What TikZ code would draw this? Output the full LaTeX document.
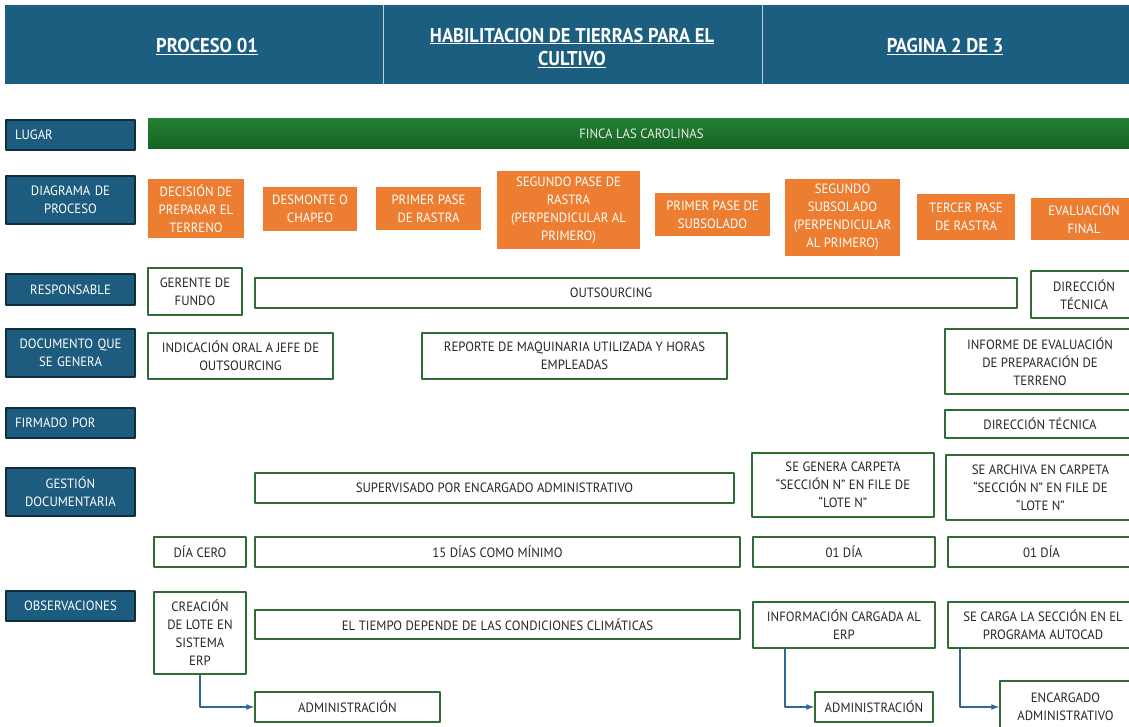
\documentclass[tikz,border=0pt]{standalone}
\usepackage{fontspec}
\setmainfont{PT Sans}[FakeStretch=0.95]
\newfontfamily\headfont[FakeStretch=0.93]{PT Sans}
\definecolor{headblue}{RGB}{27,94,128}
\definecolor{labelblue}{RGB}{29,92,126}
\definecolor{labeledge}{RGB}{16,45,62}
\definecolor{bartop}{RGB}{36,128,50}
\definecolor{barbottom}{RGB}{22,98,36}
\definecolor{orangebox}{RGB}{237,125,49}
\definecolor{boxgreen}{RGB}{46,108,52}
\definecolor{arrowblue}{RGB}{46,104,150}
\begin{document}
\begin{tikzpicture}[>=latex,line join=bevel,
  rowlabel/.style={draw=labeledge,line width=1.5bp,fill=labelblue,text=white,
    minimum width=129bp,text width=119bp,inner xsep=5bp,inner ysep=2bp,align=center,
    font=\fontsize{13.5}{18}\selectfont},
  leftlabel/.style={rowlabel,align=left,text width=111bp,inner xsep=9bp},
  stepbox/.style={fill=orangebox,text=white,align=center,inner sep=2bp,
    font=\fontsize{13.5}{18}\selectfont},
  infobox/.style={draw=boxgreen,line width=2bp,fill=white,text=black!85,align=center,
    inner sep=2bp,font=\fontsize{13.5}{18}\selectfont},
  headtext/.style={text=white,align=center,font=\headfont\bfseries\fontsize{20}{24}\selectfont},
  flow/.style={->,draw=arrowblue,line width=1.6bp},
]
  \useasboundingbox (0bp,0bp) rectangle (1129bp,727bp);
  \clip (0bp,0bp) rectangle (1129bp,727bp);
%%
  % Node: header
  \node (header) [fill=headblue,minimum width=1130bp,minimum height=79bp,inner sep=0pt] at (570.0bp,682.5bp) {};
  \coordinate (divA) at (383.0bp,682.5bp);
  \coordinate (divB) at (762.0bp,682.5bp);
  \draw [white!70!headblue,line width=0.8bp] (divA |- header.north) -- (divA |- header.south);
  \draw [white!70!headblue,line width=0.8bp] (divB |- header.north) -- (divB |- header.south);
  \node (hProc) [headtext] at (207.0bp,680.0bp) {\underline{PROCESO 01}};
  \node (hTitle) [headtext] at (572.0bp,679.0bp) {\underline{HABILITACION DE TIERRAS PARA EL}\\\underline{CULTIVO}};
  \node (hPage) [headtext] at (945.0bp,680.0bp) {\underline{PAGINA 2 DE 3}};
%%
  % Node: row labels
  \node (lugar) [leftlabel,minimum height=30bp] at (70.5bp,592.0bp) {LUGAR};
  \node (diagrama) [rowlabel,minimum height=48bp] at (70.5bp,527.0bp) {DIAGRAMA DE\\PROCESO};
  \node (responsable) [rowlabel,minimum height=31bp] at (70.5bp,437.5bp) {RESPONSABLE};
  \node (documento) [rowlabel,minimum height=48bp] at (70.5bp,374.0bp) {DOCUMENTO QUE\\SE GENERA};
  \node (firmado) [leftlabel,minimum height=30bp] at (70.5bp,304.0bp) {FIRMADO POR};
  \node (gestion) [rowlabel,minimum height=48bp] at (70.5bp,235.0bp) {GESTIÓN\\DOCUMENTARIA};
  \node (observ) [rowlabel,minimum height=30bp] at (70.5bp,121.0bp) {OBSERVACIONES};
%%
  % Node: finca
  \node (finca) [top color=bartop,bottom color=barbottom,text=white!92!black,
    minimum width=987bp,minimum height=30bp,font=\fontsize{13.5}{18}\selectfont] at (641.5bp,593.0bp) {FINCA LAS CAROLINAS};
%%
  % Node: process steps
  \node (decision) [stepbox,minimum width=96bp,minimum height=59bp] at (196.0bp,518.5bp) {DECISIÓN DE\\PREPARAR EL\\TERRENO};
  \node (desmonte) [stepbox,minimum width=94bp,minimum height=44bp] at (310.0bp,518.0bp) {DESMONTE O\\CHAPEO};
  \node (rastraA) [stepbox,minimum width=105bp,minimum height=43bp] at (428.5bp,518.5bp) {PRIMER PASE\\DE RASTRA};
  \node (rastraB) [stepbox,minimum width=143bp,minimum height=78bp] at (568.5bp,517.0bp) {SEGUNDO PASE DE\\RASTRA\\(PERPENDICULAR AL\\PRIMERO)};
  \node (subsolA) [stepbox,minimum width=115bp,minimum height=43bp] at (712.5bp,512.5bp) {PRIMER PASE DE\\SUBSOLADO};
  \node (subsolB) [stepbox,minimum width=115bp,minimum height=77bp] at (842.5bp,509.5bp) {SEGUNDO\\SUBSOLADO\\(PERPENDICULAR\\AL PRIMERO)};
  \node (rastraC) [stepbox,minimum width=98bp,minimum height=46bp] at (966.0bp,510.0bp) {TERCER PASE\\DE RASTRA};
  \node (evaluacion) [stepbox,minimum width=106bp,minimum height=42bp] at (1084.0bp,508.0bp) {EVALUACIÓN\\FINAL};
%%
  % Node: responsable row
  \node (gerente) [infobox,minimum width=94bp,minimum height=47bp] at (195.0bp,435.5bp) {GERENTE DE\\FUNDO};
  \node (outsourcing) [infobox,minimum width=762bp,minimum height=30bp,
    label={[xshift=-25bp,font=\fontsize{13.5}{18}\selectfont,text=black!85]center:OUTSOURCING}] at (636.0bp,434.0bp) {};
  \node (direccion) [infobox,minimum width=106bp,minimum height=47bp] at (1084.0bp,432.5bp) {DIRECCIÓN\\TÉCNICA};
%%
  % Node: documento row
  \node (indicacion) [infobox,minimum width=185bp,minimum height=46bp] at (240.5bp,371.0bp) {INDICACIÓN ORAL A JEFE DE\\OUTSOURCING};
  \node (reporte) [infobox,minimum width=305bp,minimum height=46bp] at (574.5bp,371.0bp) {REPORTE DE MAQUINARIA UTILIZADA Y HORAS\\EMPLEADAS};
  \node (informe) [infobox,minimum width=190bp,minimum height=65bp] at (1040.0bp,365.5bp) {INFORME DE EVALUACIÓN\\DE PREPARACIÓN DE\\TERRENO};
%%
  % Node: firmado row
  \node (firma) [infobox,minimum width=190bp,minimum height=28bp] at (1040.0bp,303.0bp) {DIRECCIÓN TÉCNICA};
%%
  % Node: gestion row
  \node (supervisado) [infobox,minimum width=479bp,minimum height=30bp] at (494.5bp,239.0bp) {SUPERVISADO POR ENCARGADO ADMINISTRATIVO};
  \node (carpetaA) [infobox,minimum width=182bp,minimum height=64bp] at (843.0bp,242.0bp) {SE GENERA CARPETA\\“SECCIÓN N” EN FILE DE\\“LOTE N”};
  \node (carpetaB) [infobox,minimum width=189bp,minimum height=65bp] at (1040.5bp,239.5bp) {SE ARCHIVA EN CARPETA\\“SECCIÓN N” EN FILE DE\\“LOTE N”};
%%
  % Node: tiempo row
  \node (diaCero) [infobox,minimum width=92bp,minimum height=30bp] at (200.0bp,175.0bp) {DÍA CERO};
  \node (quince) [infobox,minimum width=485bp,minimum height=30bp] at (497.5bp,175.0bp) {15 DÍAS COMO MÍNIMO};
  \node (diaA) [infobox,minimum width=182bp,minimum height=30bp] at (844.0bp,175.0bp) {01 DÍA};
  \node (diaB) [infobox,minimum width=187bp,minimum height=30bp] at (1041.5bp,175.0bp) {01 DÍA};
%%
  % Node: observaciones row
  \node (creacion) [infobox,minimum width=92bp,minimum height=82bp] at (200.0bp,94.0bp) {CREACIÓN\\DE LOTE EN\\SISTEMA\\ERP};
  \node (tiempo) [infobox,minimum width=485bp,minimum height=29bp] at (497.5bp,102.5bp) {EL TIEMPO DEPENDE DE LAS CONDICIONES CLIMÁTICAS};
  \node (info) [infobox,minimum width=182bp,minimum height=46bp] at (844.0bp,102.0bp) {INFORMACIÓN CARGADA AL\\ERP};
  \node (carga) [infobox,minimum width=190bp,minimum height=46bp] at (1043.0bp,102.0bp) {SE CARGA LA SECCIÓN EN EL\\PROGRAMA AUTOCAD};
  \node (adminA) [infobox,minimum width=185bp,minimum height=30bp] at (347.5bp,20.0bp) {ADMINISTRACIÓN};
  \node (adminB) [infobox,minimum width=118bp,minimum height=30bp] at (874.0bp,20.0bp) {ADMINISTRACIÓN};
  \node (encargado) [infobox,minimum width=131bp,minimum height=52bp] at (1065.5bp,20.0bp) {ENCARGADO\\ADMINISTRATIVO};
%%
  % Edge: creacion -> adminA
  \draw [flow] (creacion.south) |- (adminA.west);
  % Edge: info -> adminB
  \draw [flow] ([xshift=33bp]info.south west) |- (adminB.west);
  % Edge: carga -> encargado
  \draw [flow] ([xshift=13bp]carga.south west) |- (encargado.west);
%
\end{tikzpicture}
\end{document}
